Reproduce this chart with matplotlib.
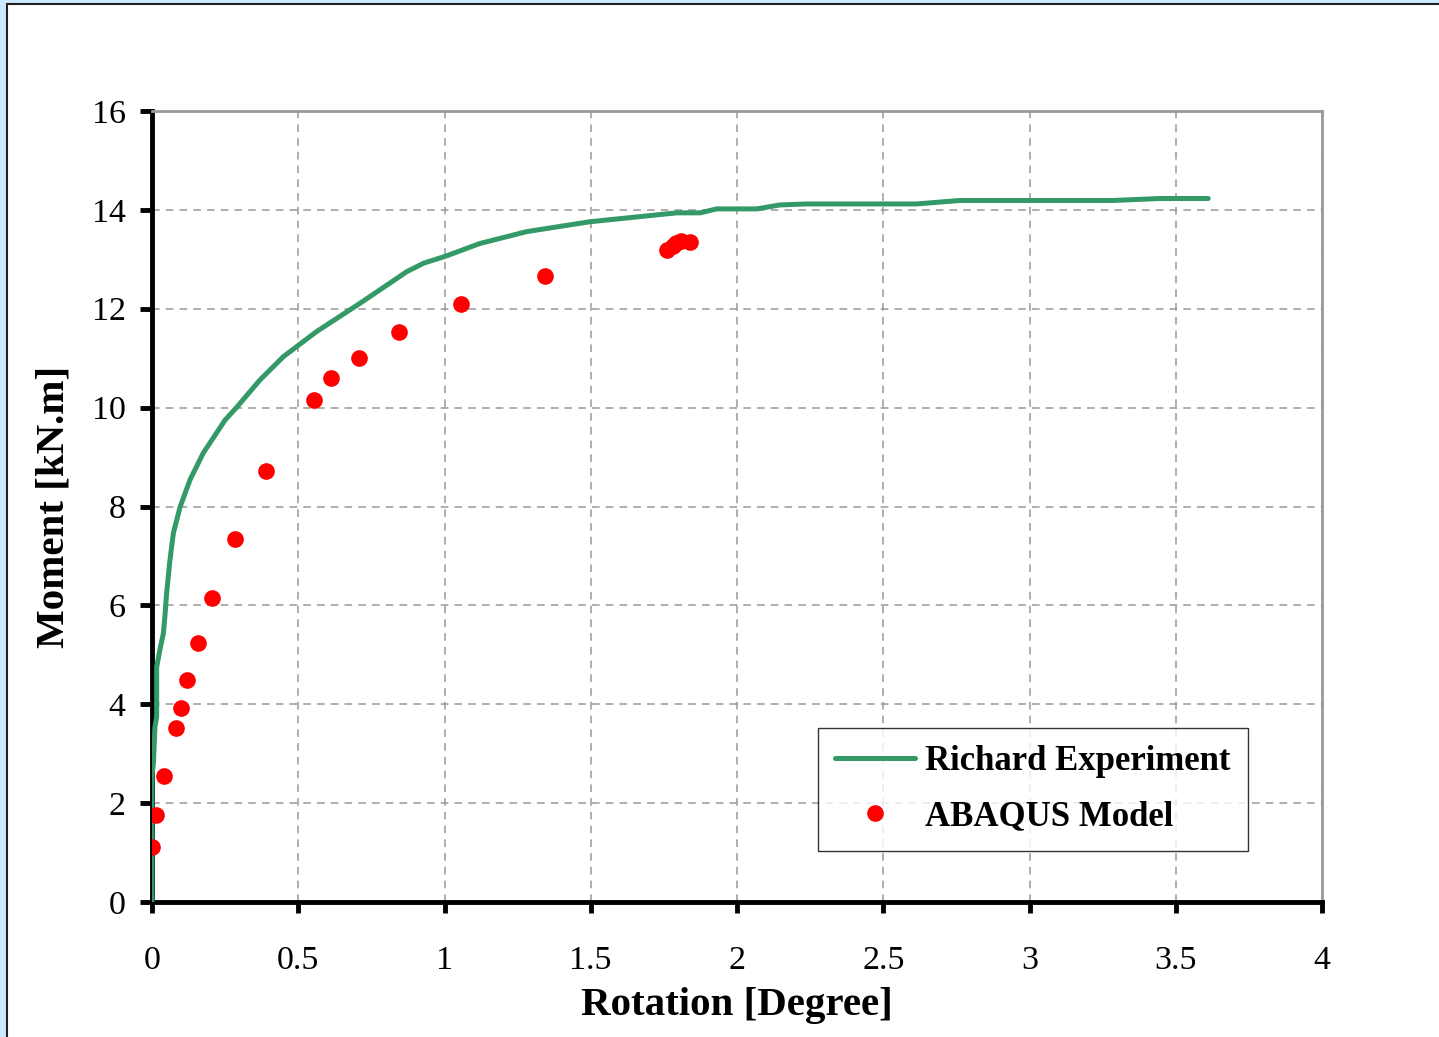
import numpy as np
import matplotlib
matplotlib.use("Agg")
import matplotlib.pyplot as plt
from matplotlib.patches import Rectangle

# Richard experiment (rotation [deg], moment [kN.m])
exp_rot = [0.0, 0.0, 0.0, 0.005, 0.010, 0.016, 0.016, 0.027, 0.039, 0.044, 0.050,
           0.059, 0.060, 0.073, 0.096, 0.130, 0.175, 0.250, 0.290, 0.369, 0.449,
           0.563, 0.711, 0.871, 0.928, 1.007, 1.121, 1.281, 1.497, 1.794, 1.874,
           1.931, 2.068, 2.147, 2.238, 2.614, 2.762, 3.286, 3.446, 3.611]
exp_mom = [0.0, 2.0, 2.57, 2.81, 3.54, 3.75, 4.75, 5.10, 5.44, 5.77, 6.25,
           6.78, 6.85, 7.46, 7.99, 8.54, 9.08, 9.75, 10.01, 10.56, 11.03,
           11.54, 12.11, 12.75, 12.92, 13.07, 13.32, 13.56, 13.76, 13.94, 13.94,
           14.02, 14.02, 14.10, 14.12, 14.12, 14.19, 14.19, 14.23, 14.23]

# ABAQUS model
fe_rot = [0.0, 0.014, 0.041, 0.082, 0.099, 0.120, 0.157, 0.205, 0.284, 0.390,
          0.554, 0.612, 0.708, 0.844, 1.056, 1.344, 1.76, 1.78, 1.79, 1.81, 1.84]
fe_mom = [1.11, 1.76, 2.55, 3.52, 3.92, 4.49, 5.24, 6.15, 7.34, 8.72,
          10.15, 10.60, 11.00, 11.53, 12.10, 12.66, 13.19, 13.27, 13.33, 13.37, 13.35]

plt.rcParams["font.family"] = ["Liberation Serif", "DejaVu Serif"]

fig = plt.figure(figsize=(14.39, 10.37), dpi=100)
fig.patch.set_facecolor("#cce8ff")
# white chart panel with dark border (runs off the right/bottom edges)
fig.patches.append(Rectangle((7 / 1439, -0.05), 1.1, (1037 - 4) / 1037 + 0.05,
                             transform=fig.transFigure, facecolor="white",
                             edgecolor="#222222", lw=1.5, zorder=-5))

ax = fig.add_axes([152 / 1439, 135 / 1037, 1170 / 1439, 791 / 1037])
ax.set_zorder(2)
ax.set_facecolor("white")

ax.plot(exp_rot, exp_mom, "-", color="#339966", lw=3.6, label="Richard Experiment",
        solid_capstyle="round", zorder=3)
ax.plot(fe_rot, fe_mom, "o", color="#ff0000", ms=12, mec="none", label="ABAQUS Model",
        zorder=4)

ax.set_xlim(0, 4)
ax.set_ylim(0, 16)
ax.set_xticks(np.arange(0, 4.01, 0.5))
ax.set_xticklabels(["0", "0.5", "1", "1.5", "2", "2.5", "3", "3.5", "4"])
ax.set_yticks(np.arange(0, 17, 2))
ax.grid(True, color="#999999", ls=(0, (5, 4)), lw=1.1)

for s in ("left", "bottom"):
    ax.spines[s].set_color("black")
    ax.spines[s].set_linewidth(3.5)
for s in ("top", "right"):
    ax.spines[s].set_color("#999999")
    ax.spines[s].set_linewidth(2)
ax.tick_params(direction="out", width=3.5, labelsize=24.5)
ax.tick_params(axis="x", length=8, pad=23)
ax.tick_params(axis="y", length=9, pad=10)

ax.set_xlabel("Rotation [Degree]", fontsize=29.5, fontweight="bold", labelpad=8)
ax.set_ylabel("Moment [kN.m]", fontsize=29.5, fontweight="bold", labelpad=14)

leg = ax.legend(loc="lower right", bbox_to_anchor=(1096 / 1170, 51 / 791),
                borderaxespad=0,
                prop={"size": 25, "weight": "bold"}, frameon=True, fancybox=False,
                handlelength=2.3, handletextpad=0.3, borderpad=0.5, labelspacing=0.65)
leg.get_frame().set_edgecolor("black")
leg.get_frame().set_linewidth(1)

fig.savefig("out.png", dpi=100, facecolor=fig.get_facecolor())
